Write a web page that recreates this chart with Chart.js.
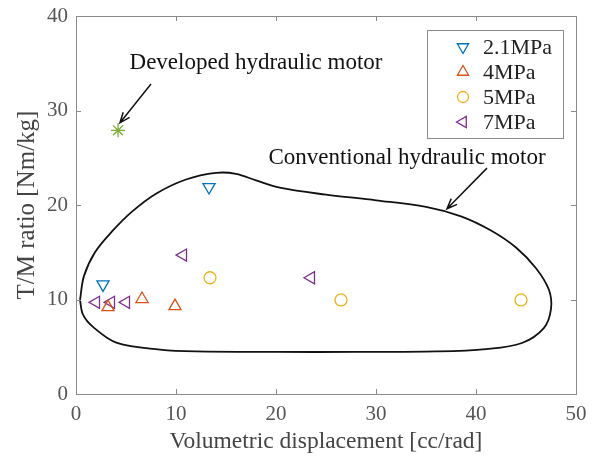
<!DOCTYPE html>
<html>
<head>
<meta charset="utf-8">
<script src="https://cdn.jsdelivr.net/npm/chart.js@4/dist/chart.umd.min.js"></script>
<style>
  html, body { margin: 0; padding: 0; background: #fff; }
  #wrap { width: 599px; height: 464px; }
</style>
</head>
<body>
<div id="wrap"><canvas id="chart" width="599" height="464"></canvas></div>
<script>
// ---------- DATA ----------
const X_TICKS = [0, 10, 20, 30, 40, 50];
const Y_TICKS = [0, 10, 20, 30, 40];

const p21X = [2.7, 13.3];
const p21Y = [11.6, 21.9];
const p4X = [3.2, 6.6, 9.9];
const p4Y = [9.2, 10.05, 9.3];
const p5X = [13.4, 26.5, 44.5];
const p5Y = [12.3, 9.95, 9.95];
const p7X = [2.0, 3.5, 5.0, 10.7, 23.5];
const p7Y = [9.7, 9.7, 9.7, 14.7, 12.3];
const devX = [4.2];
const devY = [27.9];

// outline of the conventional motor region (closed, clockwise from the left tip)
const regionX = [0.4, 0.8, 1.9, 3.6, 5.6, 8.0, 11.0, 14.0, 16.0, 18.0, 20.5, 25.0, 30.0, 35.0, 38.5, 41.5, 44.0, 46.0, 47.3, 47.5, 46.8, 44.6, 41.0, 36.0, 28.0, 20.0, 12.0, 8.4, 4.1, 1.7, 0.7, 0.4];
const regionY = [9.95, 12.5, 15.0, 17.2, 19.3, 21.2, 22.7, 23.4, 23.3, 22.6, 21.8, 21.1, 20.5, 19.8, 18.8, 17.3, 15.5, 13.3, 11.0, 9.0, 7.0, 5.4, 4.75, 4.5, 4.45, 4.45, 4.5, 4.7, 5.4, 7.1, 8.4, 9.95];

const LEGEND = ["2.1MPa", "4MPa", "5MPa", "7MPa"];

// ---------- HELPERS ----------
function pts(xs, ys) {
  return xs.map((x, i) => ({ x: x, y: ys[i] }));
}

const SERIF = "'Liberation Serif', 'Times New Roman', serif";
const AXIS_GRAY = "#8a8a8a";

const markers = [
  { color: "#0072BD", style: "triangle", rot: 180, r: 7 },
  { color: "#D95319", style: "triangle", rot: 0, r: 7 },
  { color: "#EDB120", style: "circle", rot: 0, r: 6 },
  { color: "#7E2F8E", style: "triangle", rot: -90, r: 7 },
];

function markerSet(label, xs, ys, m) {
  return {
    label: label,
    data: pts(xs, ys),
    pointStyle: m.style,
    rotation: m.rot,
    pointRadius: m.r,
    pointBorderWidth: 1.3,
    borderColor: m.color,
    backgroundColor: "rgba(0,0,0,0)",
    pointBackgroundColor: "rgba(0,0,0,0)",
    showLine: false,
  };
}

function arrow(ctx, x1, y1, x2, y2) {
  const ang = Math.atan2(y2 - y1, x2 - x1);
  const h = 11, w = 0.38;
  ctx.strokeStyle = "#111";
  ctx.lineWidth = 1.5;
  ctx.beginPath();
  ctx.moveTo(x1, y1);
  ctx.lineTo(x2, y2);
  ctx.moveTo(x2 - h * Math.cos(ang - w), y2 - h * Math.sin(ang - w));
  ctx.lineTo(x2, y2);
  ctx.lineTo(x2 - h * Math.cos(ang + w), y2 - h * Math.sin(ang + w));
  ctx.stroke();
}

// frame, inner ticks, legend, notes
const decor = {
  id: "decor",
  afterDraw(chart) {
    const { ctx, chartArea: a, scales } = chart;
    const xs = scales.x, ys = scales.y;
    ctx.save();
    ctx.strokeStyle = AXIS_GRAY;
    ctx.lineWidth = 1;
    ctx.strokeRect(a.left + 0.5, a.top + 0.5, a.right - a.left, a.bottom - a.top);
    ctx.beginPath();
    X_TICKS.forEach((v) => {
      const px = Math.round(xs.getPixelForValue(v)) + 0.5;
      ctx.moveTo(px, a.bottom); ctx.lineTo(px, a.bottom - 5);
      ctx.moveTo(px, a.top); ctx.lineTo(px, a.top + 5);
    });
    Y_TICKS.forEach((v) => {
      const py = Math.round(ys.getPixelForValue(v)) + 0.5;
      ctx.moveTo(a.left, py); ctx.lineTo(a.left + 5, py);
      ctx.moveTo(a.right, py); ctx.lineTo(a.right - 5, py);
    });
    ctx.stroke();

    // legend box
    const lx = 427, ly = 30, lw = 136, lh = 108;
    ctx.fillStyle = "#fff";
    ctx.fillRect(lx, ly, lw, lh);
    ctx.strokeStyle = AXIS_GRAY;
    ctx.strokeRect(lx + 0.5, ly + 0.5, lw, lh);
    ctx.font = "22px " + SERIF;
    ctx.textBaseline = "middle";
    ctx.textAlign = "left";
    LEGEND.forEach((t, i) => {
      const m = markers[i];
      const y = ly + 17 + i * 25;
      ctx.strokeStyle = m.color;
      ctx.fillStyle = "rgba(0,0,0,0)";
      ctx.lineWidth = 1.3;
      Chart.helpers.drawPoint(ctx, { pointStyle: m.style, rotation: m.rot, radius: m.r - 0.5, borderWidth: 1.3 }, 463, y);
      ctx.fillStyle = "#222";
      ctx.fillText(t, 483, y + 1);
    });

    // annotations
    ctx.fillStyle = "#111";
    ctx.textAlign = "center";
    ctx.font = "23px " + SERIF;
    ctx.fillText("Developed hydraulic motor", xs.getPixelForValue(18.0), ys.getPixelForValue(35.0));
    ctx.fillText("Conventional hydraulic motor", xs.getPixelForValue(33.1), ys.getPixelForValue(25.0));
    arrow(ctx, xs.getPixelForValue(7.5), ys.getPixelForValue(32.8), xs.getPixelForValue(4.4), ys.getPixelForValue(28.7));
    arrow(ctx, xs.getPixelForValue(41.1), ys.getPixelForValue(23.9), xs.getPixelForValue(37.1), ys.getPixelForValue(19.6));
    ctx.restore();
  },
};

new Chart(document.getElementById("chart"), {
  type: "scatter",
  data: {
    datasets: [
      {
        label: "Conventional",
        data: pts(regionX, regionY),
        showLine: true,
        tension: 0.35,
        borderColor: "#111",
        borderWidth: 1.8,
        pointRadius: 0,
        fill: false,
      },
      markerSet("2.1MPa", p21X, p21Y, markers[0]),
      markerSet("4MPa", p4X, p4Y, markers[1]),
      markerSet("5MPa", p5X, p5Y, markers[2]),
      markerSet("7MPa", p7X, p7Y, markers[3]),
      {
        label: "Developed",
        data: pts(devX, devY),
        pointStyle: "star",
        pointRadius: 7,
        pointBorderWidth: 1.3,
        borderColor: "#77AC30",
        showLine: false,
      },
    ],
  },
  options: {
    responsive: false,
    animation: false,
    layout: { padding: { left: 0, right: 23, top: 16, bottom: 0 } },
    plugins: { legend: { display: false }, tooltip: { enabled: false } },
    scales: {
      x: {
        type: "linear",
        min: 0,
        max: 50,
        afterBuildTicks: (s) => { s.ticks = X_TICKS.map((v) => ({ value: v })); },
        afterFit: (s) => { s.height = 70; },
        grid: { display: false },
        border: { display: false },
        ticks: { color: "#555", padding: 0, font: { family: SERIF, size: 21 } },
        title: { display: true, text: "Volumetric displacement [cc/rad]", color: "#444", padding: { top: 0, bottom: 8 }, font: { family: SERIF, size: 23.5 } },
      },
      y: {
        type: "linear",
        min: 0,
        max: 40,
        afterBuildTicks: (s) => { s.ticks = Y_TICKS.map((v) => ({ value: v })); },
        afterFit: (s) => { s.width = 76; },
        grid: { display: false },
        border: { display: false },
        ticks: { color: "#555", padding: 0, font: { family: SERIF, size: 21 } },
        title: { display: true, text: "T/M ratio [Nm/kg]", color: "#444", padding: { top: 12, bottom: 0 }, font: { family: SERIF, size: 25 } },
      },
    },
  },
  plugins: [decor],
});
</script>
</body>
</html>
